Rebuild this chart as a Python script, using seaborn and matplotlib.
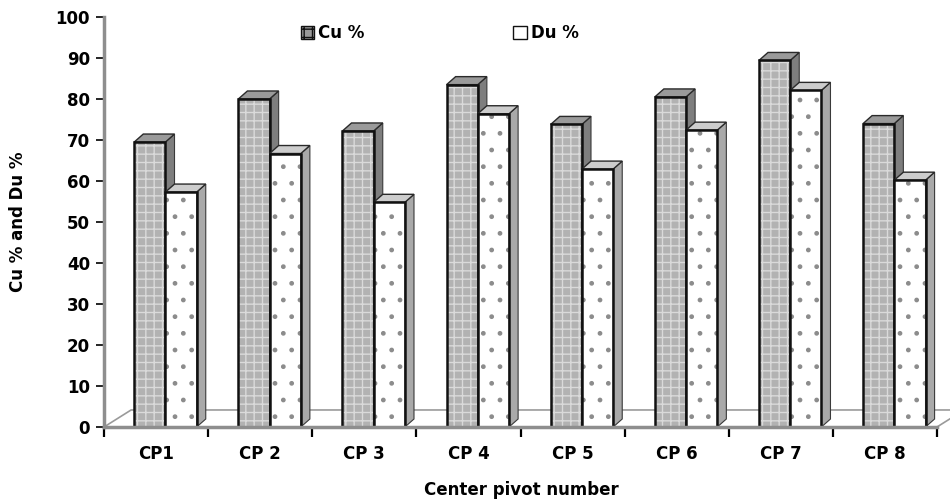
import numpy as np
import pandas as pd
import seaborn as sns
import matplotlib.pyplot as plt
from matplotlib.patches import Polygon, Rectangle, Patch

# Data: uniformity coefficients per center pivot
categories = ["CP1", "CP 2", "CP 3", "CP 4", "CP 5", "CP 6", "CP 7", "CP 8"]
series_names = ["Cu %", "Du %"]
cu_values = [69.5, 80.0, 72.2, 83.5, 73.8, 80.5, 89.4, 74.0]
du_values = [57.3, 66.7, 54.8, 76.4, 62.9, 72.4, 82.1, 60.2]
y_ticks = list(range(0, 101, 10))

df = pd.DataFrame({
    "center": categories * 2,
    "series": [series_names[0]] * len(categories) + [series_names[1]] * len(categories),
    "value": cu_values + du_values,
})

sns.set_theme(style="white")
plt.rcParams["font.family"] = ["DejaVu Sans"]
plt.rcParams["font.weight"] = "bold"
plt.rcParams["text.color"] = "black"
plt.rcParams["xtick.color"] = "black"
plt.rcParams["ytick.color"] = "black"
plt.rcParams["hatch.linewidth"] = 1.0

fig, ax = plt.subplots(figsize=(9.5, 5.04), dpi=100)
fig.subplots_adjust(left=0.1095, right=0.9863, bottom=0.1528, top=0.9663)

# face / hatch / side / top colours for each series
styles = {
    "Cu %": dict(face="#b2b2b2", hatch_col="#dadada", hatch="++", side="#7e7e7e", top="#9a9a9a"),
    "Du %": dict(face="#ffffff", hatch_col="#8c8c8c", hatch=".", side="#a9a9a9", top="#cdcdcd"),
}

sns.barplot(data=df, x="center", y="value", hue="series", hue_order=series_names,
            palette=[styles[s]["face"] for s in series_names], saturation=1,
            width=0.6, dodge=True, errorbar=None, legend=False, ax=ax)

shift = 0.09      # oblique projection pushes front faces to the right
ddx = 0.087       # depth offset (x, category units)
ddy = 1.95        # depth offset (y, value units)

for k, (name, cont) in enumerate(zip(series_names, ax.containers)):
    st = styles[name]
    z = 2 + k * 0.5
    for p in cont.patches:
        p.set_x(p.get_x() + shift)
        p.set_edgecolor(st["hatch_col"])
        p.set_linewidth(0)
        p.set_hatch(st["hatch"])
        p.set_zorder(z)
        x0, w, h = p.get_x(), p.get_width(), p.get_height()
        x1 = x0 + w
        # right side face
        ax.add_patch(Polygon([(x1, 0), (x1 + ddx, ddy), (x1 + ddx, h + ddy), (x1, h)],
                             closed=True, facecolor=st["side"], edgecolor="#3a3a3a",
                             lw=0.8, zorder=z + 0.1))
        # top cap
        ax.add_patch(Polygon([(x0, h), (x1, h), (x1 + ddx, h + ddy), (x0 + ddx, h + ddy)],
                             closed=True, facecolor=st["top"], edgecolor="#2a2a2a",
                             lw=1.0, zorder=z + 0.1))
        # front outline
        ax.add_patch(Rectangle((x0, 0), w, h, fill=False, edgecolor="#111111",
                               lw=1.8, zorder=z + 0.2))

# floor of the chart
n = len(categories)
fdx, fdy = 0.26, 4.15
ax.add_patch(Polygon([(-0.5, 0), (n - 0.5, 0), (n - 0.5 + fdx, fdy), (-0.5 + fdx, fdy)],
                     closed=True, facecolor="white", edgecolor="#9a9a9a", lw=1.2,
                     zorder=1, clip_on=False))

ax.set_xlim(-0.5, n - 0.5)
ax.set_ylim(0, 100)
ax.set_yticks(y_ticks)
ax.set_yticklabels([str(t) for t in y_ticks], fontsize=12, fontweight="bold")
ax.set_xticks(range(n))
ax.set_xticklabels(categories, fontsize=12, fontweight="bold")
ax.set_xticks(np.arange(-0.5, n, 1.0), minor=True)
ax.tick_params(axis="x", which="major", length=0, pad=13, bottom=True)
ax.tick_params(axis="x", which="minor", length=7, width=1.6, color="black",
               direction="out", bottom=True)
ax.tick_params(axis="y", length=6, width=1.2, color="black", direction="out", pad=4,
               left=True)
ax.set_xlabel("")
ax.set_ylabel("")
ax.grid(False)

for side in ["top", "right"]:
    ax.spines[side].set_visible(False)
for side in ["left", "bottom"]:
    ax.spines[side].set_color("#8e8e8e")
    ax.spines[side].set_linewidth(2.5)
    ax.spines[side].set_zorder(5)

fig.text(18 / 950, 1 - 222 / 504, "Cu % and Du %", rotation=90, ha="center", va="center",
         fontsize=12, fontweight="bold", color="black")
fig.text(521 / 950, 1 - 490 / 504, "Center pivot number", ha="center", va="center",
         fontsize=12, fontweight="bold", color="black")

handles = [
    Patch(facecolor="#9a9a9a", edgecolor="#111111", hatch="++", lw=1.0),
    Patch(facecolor="white", edgecolor="#111111", lw=1.0),
]
fig.legend(handles, series_names, loc="center left", bbox_to_anchor=(301 / 950, 1 - 33 / 504),
           ncol=2, frameon=False, handlelength=0.8, handleheight=0.8, handletextpad=0.25,
           columnspacing=8.9, borderpad=0, borderaxespad=0,
           prop=dict(weight="bold", size=12))

fig.savefig("out.png", dpi=100)
